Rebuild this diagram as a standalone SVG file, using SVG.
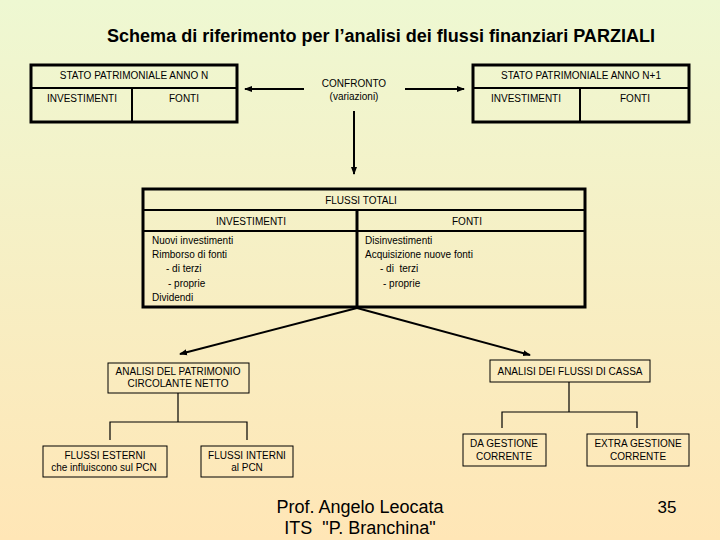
<svg xmlns="http://www.w3.org/2000/svg" width="720" height="540" viewBox="0 0 720 540">
<defs>
<linearGradient id="bg" x1="0" y1="0" x2="0" y2="1">
<stop offset="0" stop-color="#eef8d2"/>
<stop offset="1" stop-color="#ffe6b6"/>
</linearGradient>
<marker id="ah" markerWidth="8" markerHeight="8" refX="7" refY="4" orient="auto" markerUnits="userSpaceOnUse">
<path d="M0,1 L8,4 L0,7 Z" fill="#000"/>
</marker>
<style>
text{font-family:"Liberation Sans",Arial,sans-serif;fill:#000}
.s{font-size:10px}
.m{text-anchor:middle}
.thick{fill:none;stroke:#000;stroke-width:3}
.thin{fill:none;stroke:#000;stroke-width:1}
.mid{fill:none;stroke:#000;stroke-width:2}
.ln{fill:none;stroke:#000;stroke-width:1.2}
</style>
</defs>
<rect width="720" height="540" fill="url(#bg)"/>
<text x="107" y="42" textLength="548" lengthAdjust="spacingAndGlyphs" style="font-size:17.5px;font-weight:bold">Schema di riferimento per l’analisi dei flussi finanziari PARZIALI</text>

<g id="connectors">
<line x1="304" y1="89" x2="245" y2="89" class="mid" marker-end="url(#ah)"/>
<line x1="405" y1="89" x2="464" y2="89" class="mid" marker-end="url(#ah)"/>
<line x1="354" y1="111" x2="354" y2="174" class="mid" marker-end="url(#ah)"/>
<line x1="357" y1="308" x2="180" y2="354" class="mid" marker-end="url(#ah)"/>
<line x1="357" y1="308" x2="530" y2="355" class="mid" marker-end="url(#ah)"/>
<polyline points="178,393 178,422" class="ln"/>
<polyline points="110,440 110,422 247,422 247,440" class="ln"/>
<polyline points="569,382 569,412" class="ln"/>
<polyline points="502,428 502,412 637,412 637,428" class="ln"/>
</g>

<g id="sp-anno-n">
<rect x="31" y="65" width="206" height="57" class="thick"/>
<line x1="31" y1="88" x2="237" y2="88" class="mid"/>
<line x1="132" y1="88" x2="132" y2="122" class="mid"/>
<text x="134" y="79" class="s m">STATO PATRIMONIALE ANNO N</text>
<text x="82" y="102" class="s m">INVESTIMENTI</text>
<text x="184" y="102" class="s m">FONTI</text>
</g>

<g id="sp-anno-n1">
<rect x="473" y="65" width="216" height="57" class="thick"/>
<line x1="473" y1="88" x2="689" y2="88" class="mid"/>
<line x1="580" y1="88" x2="580" y2="122" class="mid"/>
<text x="581" y="79" class="s m">STATO PATRIMONIALE ANNO N+1</text>
<text x="526" y="102" class="s m">INVESTIMENTI</text>
<text x="635" y="102" class="s m">FONTI</text>
</g>

<g id="confronto">
<text x="354" y="87" class="s m">CONFRONTO</text>
<text x="354" y="100" class="s m">(variazioni)</text>
</g>

<g id="flussi-totali">
<rect x="143" y="189" width="442" height="118" class="thick"/>
<line x1="143" y1="210" x2="585" y2="210" class="mid"/>
<line x1="143" y1="231" x2="585" y2="231" class="mid"/>
<line x1="357" y1="210" x2="357" y2="307" class="thick"/>
<text x="361" y="204" class="s m">FLUSSI TOTALI</text>
<text x="251" y="225" class="s m">INVESTIMENTI</text>
<text x="467" y="225" class="s m">FONTI</text>
<text x="152" y="244" class="s">Nuovi investimenti</text>
<text x="152" y="258" class="s">Rimborso di fonti</text>
<text x="166" y="272" class="s">- di terzi</text>
<text x="168" y="287" class="s">- proprie</text>
<text x="152" y="301" class="s">Dividendi</text>
<text x="365" y="244" class="s">Disinvestimenti</text>
<text x="365" y="258" class="s">Acquisizione nuove fonti</text>
<text x="380" y="272" class="s" xml:space="preserve">- di  terzi</text>
<text x="383" y="287" class="s">- proprie</text>
</g>

<g id="analisi-pcn">
<rect x="108" y="363" width="141" height="30" class="thin"/>
<text x="178" y="375" class="s m">ANALISI DEL PATRIMONIO</text>
<text x="178" y="387" class="s m">CIRCOLANTE NETTO</text>
</g>

<g id="analisi-cassa">
<rect x="490" y="360" width="160" height="22" class="thin"/>
<text x="570" y="375" class="s m">ANALISI DEI FLUSSI DI CASSA</text>
</g>

<g id="flussi-esterni">
<rect x="43" y="446" width="124" height="31" class="thin"/>
<text x="105" y="459" class="s m">FLUSSI ESTERNI</text>
<text x="104" y="471" class="s m">che influiscono sul PCN</text>
</g>

<g id="flussi-interni">
<rect x="201" y="446" width="92" height="31" class="thin"/>
<text x="247" y="459" class="s m">FLUSSI INTERNI</text>
<text x="247" y="471" class="s m">al PCN</text>
</g>

<g id="da-gestione">
<rect x="463" y="434" width="83" height="32" class="thin"/>
<text x="504" y="447" class="s m">DA GESTIONE</text>
<text x="504" y="460" class="s m">CORRENTE</text>
</g>

<g id="extra-gestione">
<rect x="587" y="434" width="102" height="32" class="thin"/>
<text x="638" y="447" class="s m">EXTRA GESTIONE</text>
<text x="638" y="460" class="s m">CORRENTE</text>
</g>

<g id="footer">
<text x="360" y="513" class="m" style="font-size:18px">Prof. Angelo Leocata</text>
<text x="360" y="534" class="m" style="font-size:18px" xml:space="preserve">ITS  "P. Branchina"</text>
<text x="667" y="513" class="m" style="font-size:17px">35</text>
</g>
</svg>
